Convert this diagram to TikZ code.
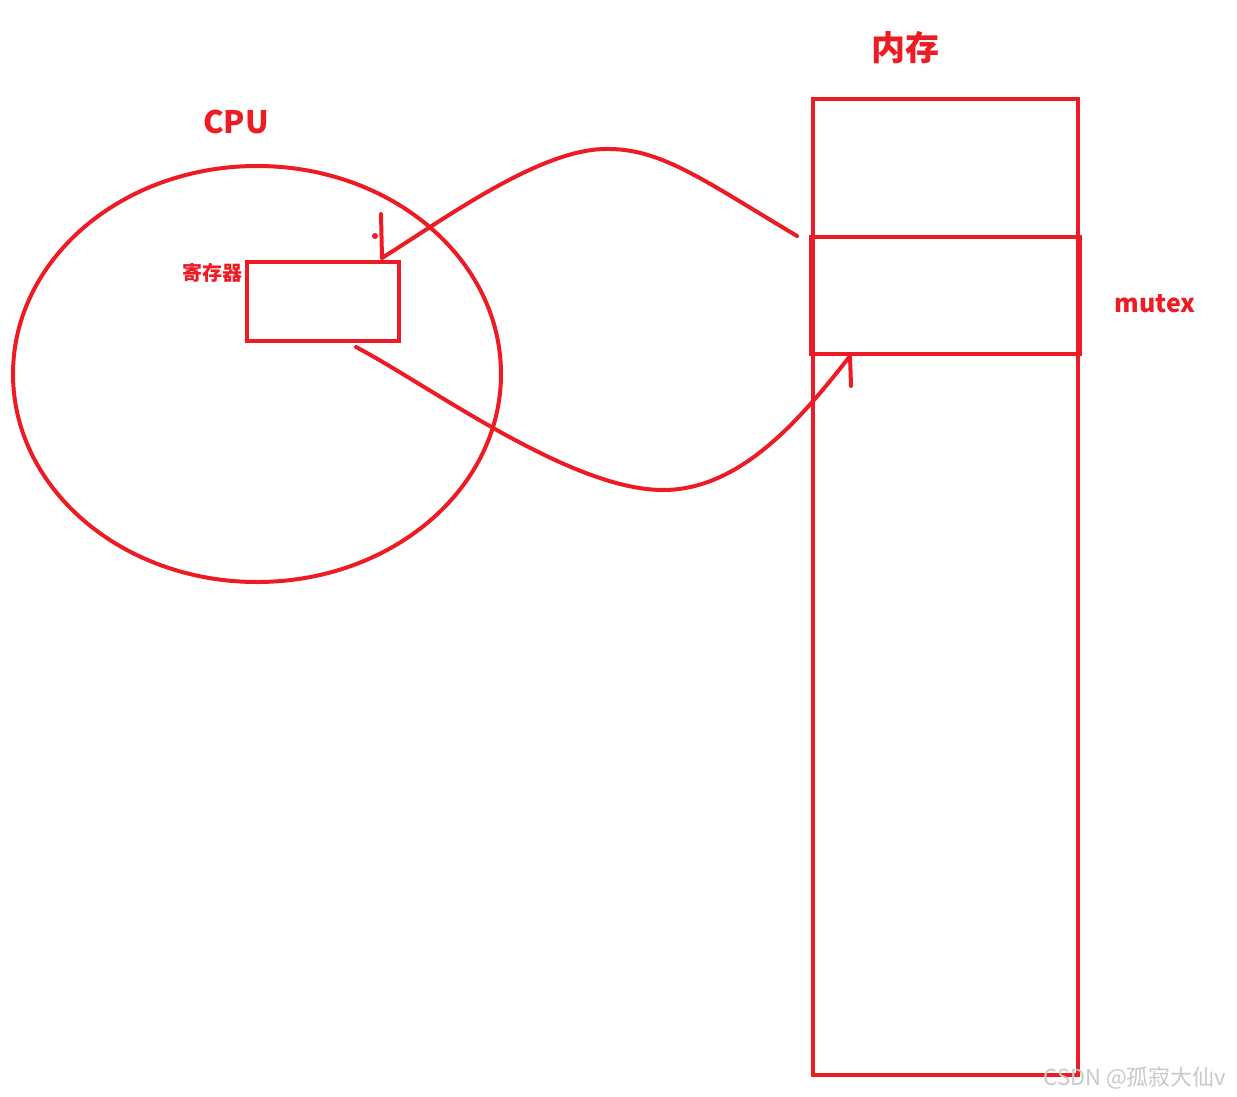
\documentclass[tikz,border=0pt]{standalone}
\usepackage{fontspec}
\usetikzlibrary{shapes.geometric}
\setmainfont{Noto Sans CJK SC}
\newfontfamily\cjk{Noto Sans CJK SC}
\definecolor{pen}{HTML}{ED1C24}
\definecolor{wm}{HTML}{C8C8C8}
\begin{document}
\begin{tikzpicture}[x=1pt,y=-1pt,
  stroke/.style={draw=pen,line width=4pt},
  lbl/.style={text=pen,inner sep=0pt,font=\cjk}]
\useasboundingbox (0,0) rectangle (1237,1097);
% CPU
\node[stroke,ellipse,minimum width=488pt,minimum height=416pt,inner sep=0pt] (cpu) at (257,374) {};
\node[lbl,font=\cjk\bfseries\fontsize{31}{31}\selectfont] (cputxt) at (236,122) {CPU};
\node[stroke,rectangle,minimum width=152pt,minimum height=79pt,inner sep=0pt] (reg) at (323,301.5) {};
\node[lbl,font=\cjk\bfseries\fontsize{20}{20}\selectfont] (regtxt) at (212,273) {寄存器};
% memory
\node[stroke,rectangle,minimum width=265pt,minimum height=976pt,inner sep=0pt] (mem) at (945.5,587) {};
\node[stroke,line width=4.5pt,rectangle,minimum width=269pt,minimum height=117pt,inner sep=0pt] (mutex) at (945.5,295.5) {};
\node[lbl,font=\cjk\bfseries\fontsize{34}{34}\selectfont] (memtxt) at (905,48) {内存};
\node[lbl,font=\cjk\bfseries\fontsize{25}{25}\selectfont] (mutextxt) at (1155,304) {mutex};
% arrows
\coordinate (a1) at (797,236);
\coordinate (a1e) at (382,258);
\draw[pen,line width=4pt,line cap=round] (a1) .. controls (700,178) and (660,148) .. (605,149)
  .. controls (540,150) and (450,215) .. (a1e);
\draw[pen,line width=4pt,line cap=round] (381,214) -- (a1e);
\fill[pen] (375,236) circle (3);
\coordinate (b1) at (356,347);
\coordinate (b1e) at (850,356);
\draw[pen,line width=4pt,line cap=round] (b1) .. controls (430,386) and (570,490) .. (663,490)
  .. controls (740,490) and (800,420) .. (b1e);
\draw[pen,line width=4pt,line cap=round] (b1e) -- (851,386);
% watermark
\node[text=wm,inner sep=0pt,font=\cjk\fontsize{22}{22}\selectfont] (wmk) at (1135,1078) {CSDN @孤寂大仙v};
\end{tikzpicture}
\end{document}
